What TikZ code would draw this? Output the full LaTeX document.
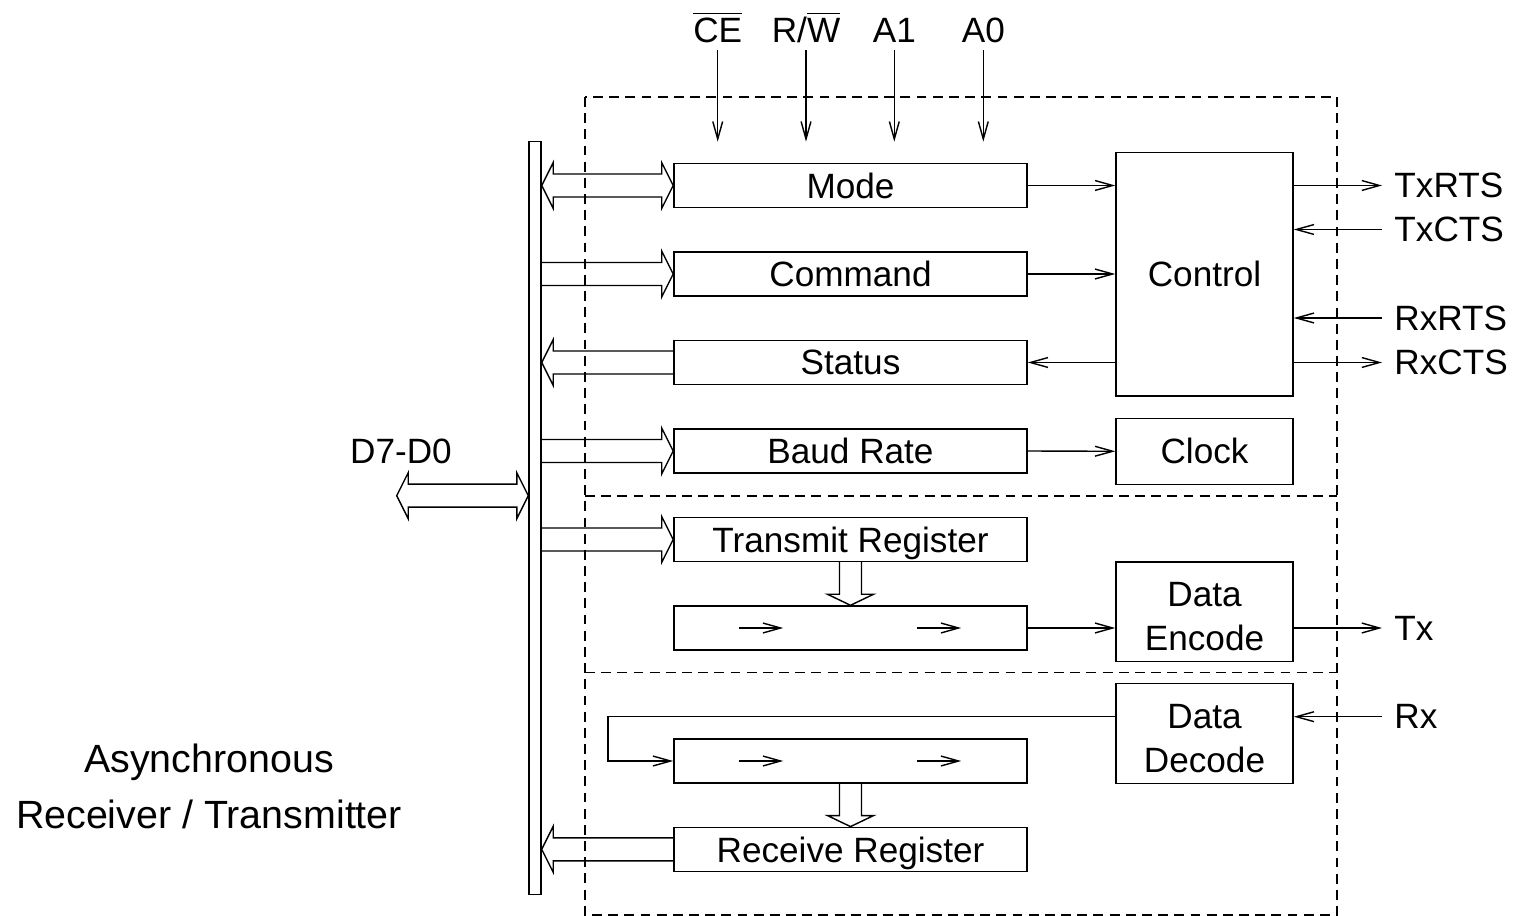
\documentclass[tikz,border=0pt]{standalone}
\usepackage{fontspec}
\setmainfont{Liberation Sans}
\usetikzlibrary{arrows.meta,calc}

% breiter Busspfeil: #1 Ende, #2 Spitze, #3 = 1 nach rechts / -1 nach links
\newcommand{\fatarrow}[3]{%
  \draw ($(#1)+(0,-11.5)$) -- ($(#2)+({-11.5*#3},-11.5)$) -- ($(#2)+({-11.5*#3},-23)$) -- (#2)
    -- ($(#2)+({-11.5*#3},23)$) -- ($(#2)+({-11.5*#3},11.5)$) -- ($(#1)+(0,11.5)$);}
% breiter Doppelpfeil: #1 linke Spitze, #2 rechte Spitze
\newcommand{\fatboth}[2]{%
  \draw ($(#1)+(11.5,-11.5)$) -- ($(#2)+(-11.5,-11.5)$) -- ($(#2)+(-11.5,-23)$) -- (#2)
    -- ($(#2)+(-11.5,23)$) -- ($(#2)+(-11.5,11.5)$) -- ($(#1)+(11.5,11.5)$)
    -- ($(#1)+(11.5,23)$) -- (#1) -- ($(#1)+(11.5,-23)$) -- cycle;}
% breiter Pfeil nach unten: #1 Ende, #2 Spitze
\newcommand{\fatdown}[2]{%
  \draw ($(#1)+(-11,0)$) -- ($(#2)+(-11,-11)$) -- ($(#2)+(-23,-11)$) -- (#2)
    -- ($(#2)+(23,-11)$) -- ($(#2)+(11,-11)$) -- ($(#1)+(11,0)$);}
% erste Zeile etwas tiefer setzen
\newcommand{\lowline}{\rule{0pt}{9.8pt}}

\begin{document}
\begin{tikzpicture}[x=0.01cm, y=-0.01cm,
  reg/.style={draw, minimum width=3.53cm, minimum height=0.44cm, inner sep=0pt, text depth=0pt},
  blk/.style={draw, minimum width=1.77cm, align=center, inner sep=0pt, font=\fontsize{10}{12.5}\selectfont},
  sig/.style={-{Straight Barb[length=5pt,width=2.8pt]}},
  frame/.style={dash pattern=on 2.8pt off 1.8pt}]
  \useasboundingbox (0,0) rectangle (1513,916);

  % Rahmen
  \draw[frame] (585,97) rectangle (1337,915);
  \draw[frame] (585,496) -- (1337,496);
  \draw[frame] (585,672.5) -- (1337,672.5);

  % Datenbus
  \node[draw, minimum width=0.12cm, minimum height=7.52cm, inner sep=0pt] (bus) at (535,518) {};
  \node (data) at (401,451) {D7-D0};
  \coordinate (dext) at (396.7,495.7);

  % Register
  \node[reg] (mode) at (850.5,185.5) {Mode};
  \node[reg] (cmd) at (850.5,274) {Command};
  \node[reg] (status) at (850.5,362.5) {Status};
  \node[reg] (baud) at (850.5,451) {Baud Rate};
  \node[reg] (txreg) at (850.5,539.5) {Transmit Register};
  \node[reg] (txsh) at (850.5,628) {};
  \node[reg] (rxsh) at (850.5,761) {};
  \node[reg] (rxreg) at (850.5,849.3) {Receive Register};

  % Bloecke rechts
  \node[blk, minimum height=2.43cm] (control) at (1204.5,274.3) {Control};
  \node[blk, minimum height=0.66cm] (clock) at (1204.5,451.3) {Clock};
  \node[blk, minimum height=0.99cm] (encode) at (1204.5,611.7) {\lowline Data\\Encode};
  \node[blk, minimum height=1.00cm] (decode) at (1204.5,733.3) {\lowline Data\\Decode};

  % Steuereingaenge oben
  \node[anchor=base] (ce) at (717.7,42.7) {$\overline{\mbox{CE}}$};
  \node[anchor=base] (rw) at (806,42.7) {R/$\overline{\mbox{W}}$};
  \node[anchor=base] (a1) at (894.3,42.7) {A1};
  \node[anchor=base] (a0) at (983.3,42.7) {A0};
  \coordinate (cein) at (717.7,141.7);
  \coordinate (rwin) at (806,141.7);
  \coordinate (a1in) at (894.3,141.7);
  \coordinate (a0in) at (983.3,141.7);
  \draw[sig] ([yshift=1.5pt]ce.south) -- (cein);
  \draw[sig] ([yshift=1.5pt]rw.south |- ce.south) -- (rwin);
  \draw[sig] ([yshift=1.5pt]a1.south |- ce.south) -- (a1in);
  \draw[sig] ([yshift=1.5pt]a0.south |- ce.south) -- (a0in);

  % Anschluesse rechts
  \node[anchor=west] (txrts) at (1382,185.5) {TxRTS};
  \node[anchor=west] (txcts) at (1382,229.5) {TxCTS};
  \node[anchor=west] (rxrts) at (1382,318) {RxRTS};
  \node[anchor=west] (rxcts) at (1382,362.5) {RxCTS};
  \node[anchor=west] (tx) at (1382,628) {Tx};
  \node[anchor=west] (rx) at (1382,716.7) {Rx};
  \draw[sig] (txrts -| control.east) -- (txrts.west);
  \draw[sig] (txcts.west) -- (txcts -| control.east);
  \draw[sig] (rxrts.west) -- (rxrts -| control.east);
  \draw[sig] (rxcts -| control.east) -- (rxcts.west);
  \draw[sig] (tx -| encode.east) -- (tx.west);
  \draw[sig] (rx.west) -- (rx -| decode.east);

  % Verbindungen
  \draw[sig] (mode.east) -- (mode.east -| control.west);
  \draw[sig] (cmd.east) -- (cmd.east -| control.west);
  \draw[sig] (status.east -| control.west) -- (status.east);
  \draw[sig] (baud.east) -- (clock.west);
  \draw[sig] (txsh.east) -- (txsh.east -| encode.west);
  \coordinate (loop) at (608,761);
  \draw[sig] (rx -| decode.west) -| (loop) -- (rxsh.west);

  % Schieberegister
  \draw[sig] ($(txsh.west)+(66,0)$) -- ++(44,0);
  \draw[sig] ($(txsh.west)+(244,0)$) -- ++(44,0);
  \draw[sig] ($(rxsh.west)+(66,0)$) -- ++(44,0);
  \draw[sig] ($(rxsh.west)+(244,0)$) -- ++(44,0);

  % Busverbindungen
  \fatboth{mode.west -| bus.east}{mode.west}
  \fatarrow{cmd.west -| bus.east}{cmd.west}{1}
  \fatarrow{status.west}{status.west -| bus.east}{-1}
  \fatarrow{baud.west -| bus.east}{baud.west}{1}
  \fatarrow{txreg.west -| bus.east}{txreg.west}{1}
  \fatarrow{rxreg.west}{rxreg.west -| bus.east}{-1}
  \fatboth{dext}{dext -| bus.west}
  \fatdown{txreg.south}{txsh.north}
  \fatdown{rxsh.south}{rxreg.north}

  \node[align=center, font=\fontsize{11.2}{15.9}\selectfont] (title) at (209,786.5) {Asynchronous\\Receiver / Transmitter};
\end{tikzpicture}
\end{document}
